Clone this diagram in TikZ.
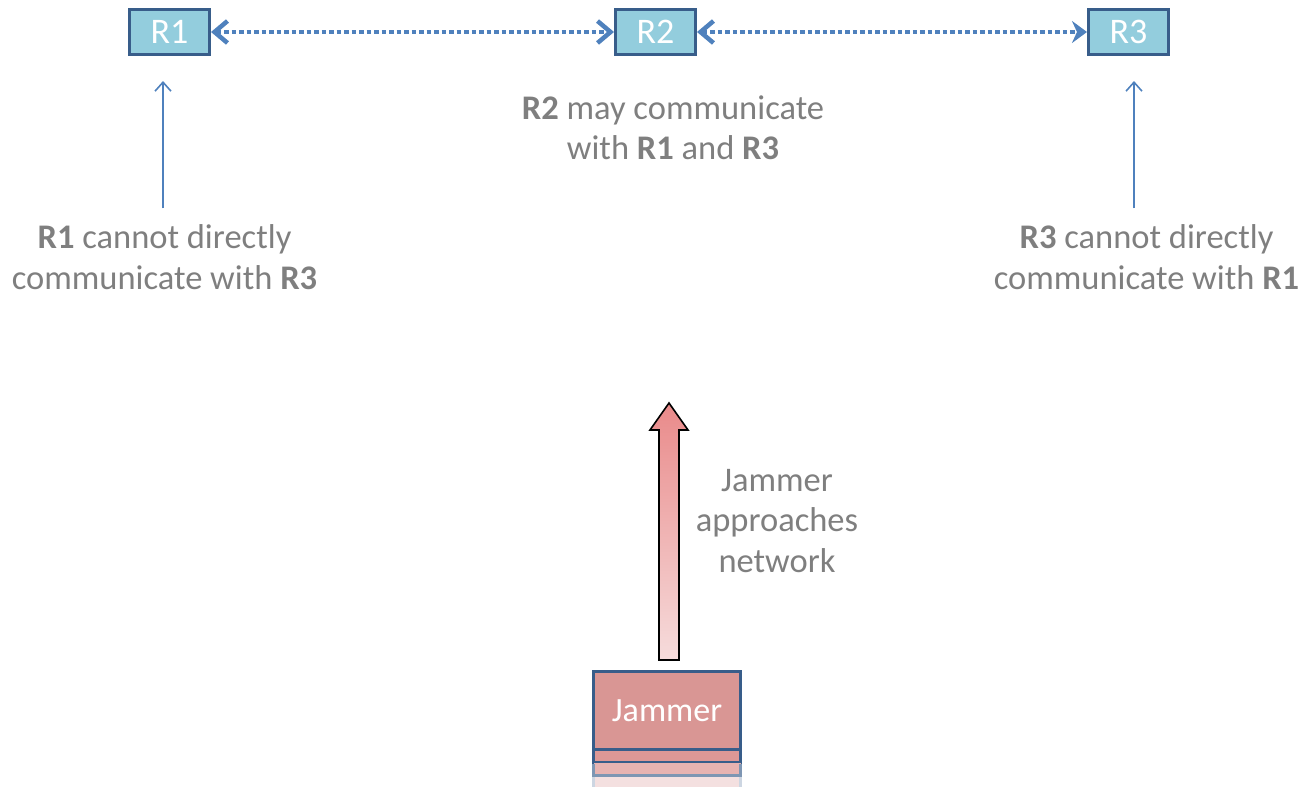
\documentclass[tikz,border=0pt]{standalone}
\usepackage{fontspec}
\setmainfont{Carlito}
\usetikzlibrary{arrows.meta}
\definecolor{boxfill}{HTML}{93CDDD}
\definecolor{boxline}{HTML}{385D8A}
\definecolor{linkblue}{HTML}{4F81BD}
\definecolor{labgray}{HTML}{7F7F7F}
\definecolor{jamfill}{HTML}{D99694}
\definecolor{jamstripa}{HTML}{DD9896}
\definecolor{jamstripb}{HTML}{E7B3B1}
\definecolor{jamstripc}{HTML}{F4E0E0}
\definecolor{arrtop}{HTML}{E98A8A}
\definecolor{arrbot}{HTML}{F6DCDC}
\tikzset{
  router/.style={draw=boxline, line width=3pt, fill=boxfill, minimum width=80pt,
    minimum height=45pt, inner sep=0pt, text=white, font=\fontsize{36}{40}\selectfont},
  lab/.style={text=labgray, align=center, inner sep=0pt, font=\fontsize{34.5}{40.5}\selectfont},
  link/.style={linkblue, line width=4.5pt, dash pattern=on 4.5pt off 3pt},
  thinarr/.style={linkblue, line width=1.6pt, -{Straight Barb[length=9pt, width=16pt, line width=1.6pt]}},
  jambox/.style={draw=boxline, line width=3pt, fill=jamfill, minimum width=147pt,
    minimum height=78pt, inner sep=0pt, text=white, font=\fontsize{34}{40}\selectfont},
}
\begin{document}
\begin{tikzpicture}[x=1pt, y=-1pt]
\useasboundingbox (0,0) rectangle (1315,787);
% routers
\node[router] (R1) at (169.5,32) {R1};
\node[router] (R2) at (655.5,32) {R2};
\node[router] (R3) at (1128.5,32) {R3};
% dotted links
\draw[link, {Straight Barb[length=13pt, width=22pt, line width=4.5pt]}-{Straight Barb[length=13pt, width=22pt, line width=4.5pt]}] (R1) -- (R2);
\draw[link, {Straight Barb[length=13pt, width=22pt, line width=4.5pt]}-{Stealth[length=15pt, width=22pt, inset=5pt]}] (R2) -- (R3);
% labels
\node[lab] (l2) at (673,128) {\textbf{R2} may communicate\\with \textbf{R1} and \textbf{R3}};
\node[lab] (l1) at (164.5,257) {\textbf{R1} cannot directly\\communicate with \textbf{R3}};
\node[lab] (l3) at (1146.5,257) {\textbf{R3} cannot directly\\communicate with \textbf{R1}};
\draw[thinarr, shorten <=16pt, shorten >=25pt] ([xshift=-1.5pt]l1.north) -- ([xshift=-1.5pt]l1.north |- R1.south);
\draw[thinarr, shorten <=16pt, shorten >=25pt] ([xshift=-12.5pt]l3.north) -- ([xshift=-12.5pt]l3.north |- R3.south);
% jammer reflection strips
\fill[jamstripa] (593.5,749.5) rectangle (740.5,762.5);
\draw[boxline, line width=3pt] (593.5,749.5) rectangle (740.5,762.5);
\fill[jamstripb] (593.5,762.5) rectangle (740.5,775);
\draw[boxline!65, line width=3pt] (593.5,764) -- (593.5,775) -- (740.5,775) -- (740.5,764);
\fill[jamstripc] (593.5,776.5) rectangle (740.5,787);
\draw[boxline!25, line width=3pt] (593.5,777) -- (593.5,787);
\draw[boxline!25, line width=3pt] (740.5,777) -- (740.5,787);
% jammer
\node[jambox] (J) at (667,710.5) {Jammer};
% block arrow
\coordinate (ab) at ([xshift=2pt, yshift=10pt]J.north);
\path[top color=arrtop, bottom color=arrbot, draw=black, line width=1.6pt, line join=miter]
  (ab) ++(-10,0) -- ++(0,-230) -- ++(-9,0) -- ++(19,-27) -- ++(19,27) -- ++(-9,0) -- ++(0,230) -- cycle;
\node[lab, anchor=center] (lj) at (777,521) {Jammer\\approaches\\network};
\end{tikzpicture}
\end{document}
